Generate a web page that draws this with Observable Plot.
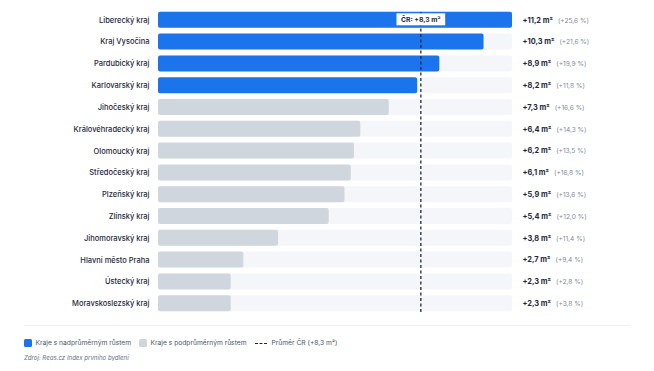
<!DOCTYPE html>
<html><head><meta charset="utf-8">
<script src="https://cdn.jsdelivr.net/npm/d3@7"></script>
<script src="https://cdn.jsdelivr.net/npm/@observablehq/plot@0.6"></script>
<style>
body{margin:0;background:#fff;font-family:Inter,"Noto Sans",sans-serif;}
#wrap{width:654px;}
.sep{margin:7px 24px 0 24px;border-top:1px solid #eceef2;}
.legend{display:flex;align-items:center;margin:13px 0 0 24px;font-size:6.7px;color:#475569;}
.legend .it{display:flex;align-items:center;margin-right:8px;}
.sw{width:7.5px;height:7.5px;border-radius:1.5px;margin-right:4px;}
.dash{width:12px;border-top:1.6px dashed #1e293b;margin-right:5px;}
.src{margin:7px 0 0 24px;font-size:6.1px;font-style:italic;color:#64748b;}
</style></head>
<body><div id="wrap"><div id="chart"></div>
<div class="sep"></div>
<div class="legend">
<div class="it"><div class="sw" style="background:#1b74eb"></div>Kraje s nadprůměrným růstem</div>
<div class="it"><div class="sw" style="background:#d0d6de"></div>Kraje s podprůměrným růstem</div>
<div class="it"><div class="dash"></div>Průměr ČR (+8,3 m²)</div>
</div>
<div class="src">Zdroj: Reas.cz Index prvního bydlení</div>
</div>
<script>
const regions = ["Liberecký kraj","Kraj Vysočina","Pardubický kraj","Karlovarský kraj","Jihočeský kraj","Královéhradecký kraj","Olomoucký kraj","Středočeský kraj","Plzeňský kraj","Zlínský kraj","Jihomoravský kraj","Hlavní město Praha","Ústecký kraj","Moravskoslezský kraj"];
const growthM2 = [11.2,10.3,8.9,8.2,7.3,6.4,6.2,6.1,5.9,5.4,3.8,2.7,2.3,2.3];
const growthPct = [25.6,21.6,19.9,11.8,16.6,14.3,13.5,16.8,13.6,12.0,11.4,9.4,2.8,3.8];
const aboveAverage = [true,true,true,true,false,false,false,false,false,false,false,false,false,false];
const average = 8.3;
const avgLabel = "ČR: +8,3 m²";

const fmt = v => v.toFixed(1).replace(".", ",");
const data = regions.map((r,i)=>({region:r, value:growthM2[i], pct:growthPct[i], above: aboveAverage[i]}));
const maxV = d3.max(growthM2);

const plot = Plot.plot({
  width: 654, height: 318,
  marginLeft: 158, marginRight: 142, marginTop: 6, marginBottom: 1,
  style: {fontFamily: "Inter, sans-serif", color: "#1e293b", background: "#fff"},
  x: {domain: [0, maxV], axis: null},
  y: {domain: regions, padding: 0.265, round: false, label: null},
  marks: [
    Plot.barX(data, {y: "region", x1: 0, x2: maxV, fill: "#f5f6f9", rx: 2}),
    Plot.barX(data, {y: "region", x: "value", fill: d => d.above ? "#1b74eb" : "#d0d6de", rx: 2}),
    Plot.ruleX([average], {stroke: "#1e293b", strokeWidth: 1.3, strokeDasharray: "3,2.5", insetTop: 6, insetBottom: 4}),
    Plot.text([average], {x: d => d, frameAnchor: "top", dy: 10.5, text: () => avgLabel, fontSize: 6.8, fontWeight: 700, fill: "#1e293b", className: "avglabel"}),
    Plot.axisY({tickSize: 0, tickPadding: 9, fontSize: 7.5, fontWeight: 500, label: null}),
    Plot.text(data, {y: "region", x: maxV, dx: 10, textAnchor: "start", text: d => "+" + fmt(d.value) + " m²", fontSize: 7.4, fontWeight: 700, fill: "#1e293b", className: "vals"})
  ]
});
document.getElementById("chart").appendChild(plot);

// white box behind the average label
const lab = plot.querySelector("g.avglabel text");
if (lab) {
  const bb = lab.getBBox();
  const r = document.createElementNS("http://www.w3.org/2000/svg","rect");
  r.setAttribute("x", bb.x - 4.5); r.setAttribute("y", bb.y - 1.5);
  r.setAttribute("width", bb.width + 9); r.setAttribute("height", bb.height + 3);
  r.setAttribute("fill", "#ffffff");
  r.setAttribute("stroke", "none");
  const tf = lab.getAttribute("transform");
  if (tf) r.setAttribute("transform", tf);
  lab.parentNode.insertBefore(r, lab);
}
// percent suffixes
plot.querySelectorAll("g.vals text").forEach((t, i) => {
  const ts = document.createElementNS("http://www.w3.org/2000/svg","tspan");
  ts.setAttribute("dx", 5);
  ts.setAttribute("font-size", 6.6);
  ts.setAttribute("font-weight", 400);
  ts.setAttribute("fill", "#7f8a9b");
  ts.textContent = "(+" + fmt(data[i].pct) + " %)";
  t.appendChild(ts);
});
</script></body></html>
